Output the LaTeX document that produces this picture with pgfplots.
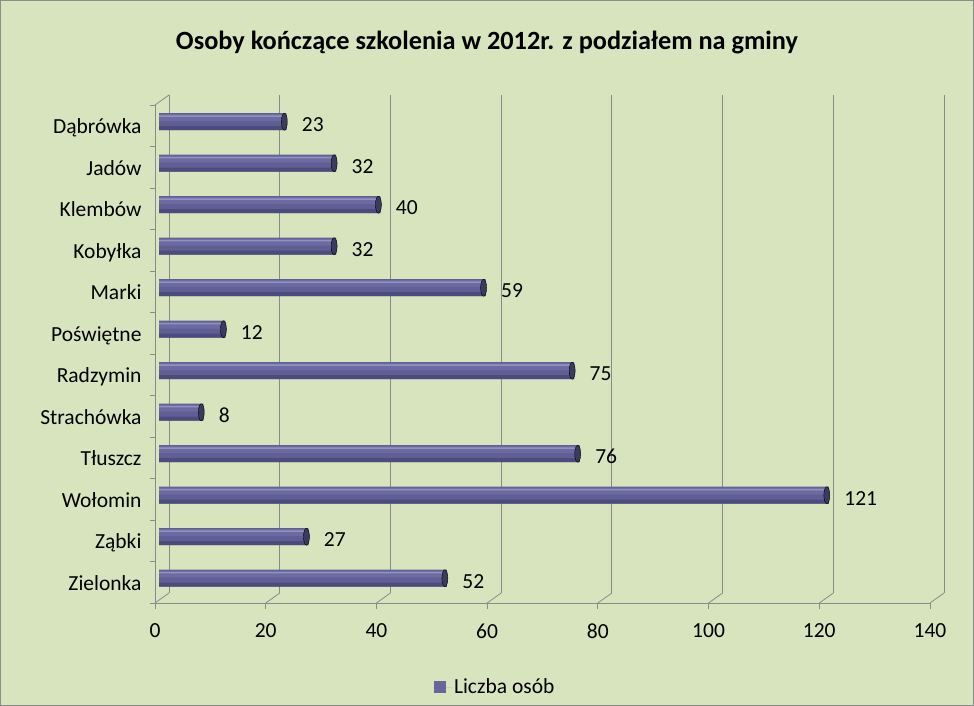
\documentclass[border=0pt]{standalone}
\usepackage{fontspec}
\setmainfont{Carlito}
\usepackage{pgfplots}
\usepackage{pgfplotstable}
\pgfplotsset{compat=1.18}

\definecolor{bg}{HTML}{D8E4BD}
\definecolor{frame}{HTML}{8C8C8C}
\definecolor{gridgray}{HTML}{8A8A8A}
\definecolor{barhi}{HTML}{9292C0}
\definecolor{barlight}{HTML}{6B6BA2}
\definecolor{barmid}{HTML}{5F5F96}
\definecolor{bardark}{HTML}{4C4C7C}
\definecolor{capcol}{HTML}{3B3B60}
\definecolor{legcol}{HTML}{66669A}

% gminy od dołu (0) do góry (11)
\pgfplotstableread{
y val
0 52
1 27
2 121
3 76
4 8
5 75
6 12
7 59
8 32
9 40
10 32
11 23
}\gminy

\begin{document}
\begin{tikzpicture}
\useasboundingbox (0,0) rectangle (974pt,706pt);
\fill[bg] (0,0) rectangle (974pt,706pt);
\draw[frame, line width=1pt] (0.5pt,0.5pt) rectangle (973.5pt,705.5pt);

\node[font=\fontsize{26.3}{30}\selectfont\bfseries] at (487pt,663pt)
  {Osoby kończące szkolenia w 2012r. z podziałem na gminy};

% tylna ściana z siatką
\begin{axis}[
  at={(169pt,113pt)}, anchor=south west,
  scale only axis, width=775pt, height=498pt,
  xmin=0, xmax=140, ymin=-0.5, ymax=11.5,
  xtick={0,20,...,140}, xticklabels={}, ytick=\empty,
  major tick length=0pt,
  axis line style={draw=none},
  xmajorgrids, grid style={gridgray, line width=0.8pt},
]
\addplot[draw=none] coordinates {(0,0)};
\end{axis}

% przednia oś ze słupkami
\begin{axis}[
  at={(155pt,103pt)}, anchor=south west,
  scale only axis, width=775pt, height=498pt,
  xmin=0, xmax=140, ymin=-0.5, ymax=11.5,
  clip=false,
  axis x line*=bottom, axis y line*=left,
  axis line style={gridgray, line width=0.8pt},
  xtick={0,20,...,140},
  ytick={0,...,11},
  yticklabels={Zielonka,Ząbki,Wołomin,Tłuszcz,Strachówka,Radzymin,Poświętne,Marki,Kobyłka,Klembów,Jadów,Dąbrówka},
  minor ytick={-0.5,0.5,...,11.5},
  tick align=outside,
  major tick length=6pt, minor tick length=5pt,
  every major y tick/.style={draw=none},
  every minor y tick/.style={gridgray, line width=0.8pt},
  every major x tick/.style={gridgray, line width=0.8pt},
  tick label style={font=\fontsize{21.5}{24}\selectfont},
  xticklabel style={yshift=-11pt},
  yticklabel style={anchor=base east, xshift=-4pt, yshift=-8pt},
  /pgf/number format/assume math mode=true,
  legend style={at={(0.439,-0.169)}, anchor=center, draw=none, fill=none,
    font=\fontsize{21.5}{24}\selectfont},
  xbar, bar width=17pt,
]
\addplot[draw=none, fill=barmid, xshift=4pt, bar shift=4pt,
  nodes near coords,
  every node near coord/.append style={font=\fontsize{21.5}{24}\selectfont, black,
    anchor=base west, xshift=12pt, yshift=-10pt},
  legend image code/.code={\fill[legcol] (0pt,-6pt) rectangle (12pt,6pt);
    \path (0pt,0pt) -- (18pt,0pt);}
] table[x=val, y=y] {\gminy};
\addlegendentry{Liczba osób}
\addplot[draw=none, fill=barlight, xshift=4pt, bar shift=8pt, bar width=7pt, forget plot]
  table[x=val, y=y] {\gminy};
\addplot[draw=none, fill=bardark, xshift=4pt, bar shift=-2.5pt, bar width=4pt, forget plot]
  table[x=val, y=y] {\gminy};
\addplot[draw=none, fill=barhi, xshift=4pt, bar shift=9.5pt, bar width=1.5pt, forget plot]
  table[x=val, y=y] {\gminy};
\addplot[xbar=false, only marks, mark=*, mark size=8.5pt, xshift=2pt, yshift=4pt,
  mark options={xscale=0.35, fill=capcol, draw=none}, forget plot]
  table[x=val, y=y] {\gminy};
\pgfplotsinvokeforeach{0,20,...,140}{
  \draw[gridgray, line width=0.8pt] (axis cs:#1,-0.5) -- ++(14pt,10pt);
}
\draw[gridgray, line width=0.8pt] (axis cs:0,11.5) -- ++(14pt,10pt);
\end{axis}
\end{tikzpicture}
\end{document}
